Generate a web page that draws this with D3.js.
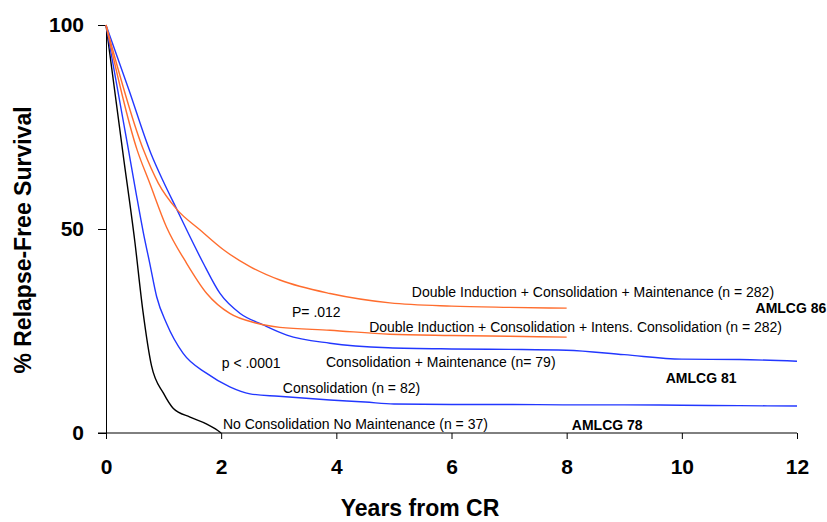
<!DOCTYPE html>
<html>
<head>
<meta charset="utf-8">
<script src="https://cdn.jsdelivr.net/npm/d3@7"></script>
<style>
  body { margin: 0; background: #fff; }
  text { font-family: "Liberation Sans", Arial, sans-serif; }
  .axis path, .axis line { stroke: #000; stroke-width: 1; }
  .axis text { font-size: 21px; font-weight: bold; }
</style>
</head>
<body>
<svg id="chart" width="827" height="522"></svg>
<script>
// years from CR, % relapse-free survival
const noConsol = [[0,100],[0.3,68],[0.5,47],[0.64,30],[0.79,16.5],[1.0,9.7],[1.17,6],[1.46,3.9],[1.75,2.2],[1.9,1],[2,0]];
const consol = [[0,100],[0.39,69.4],[0.52,59],[0.65,49],[0.76,41.6],[0.88,33.4],[1.05,26.9],[1.34,19.5],[1.75,14.6],[2.15,11.3],[2.5,9.6],[3,9],[3.89,8.1],[4.5,7.6],[5,7.1],[6,7],[7,7],[8,6.9],[9,6.9],[10,6.8],[11,6.7],[12,6.6]];
const consolMaint = [[0,100],[0.4,84],[0.78,68.5],[1.0,61.5],[1.23,54.8],[1.4,49.8],[1.69,41.6],[1.98,34.2],[2.33,29.3],[2.73,26.5],[3.14,24],[3.89,22],[4.9,20.9],[6,20.6],[7,20.5],[8,20.3],[9,19.2],[10,18.1],[11,18],[12,17.6]];
const diIntens = [[0,100],[0.54,69.4],[0.76,61.2],[1.05,50.5],[1.4,41.6],[1.75,34.2],[2.15,29.3],[2.62,26.9],[3.02,25.9],[3.89,25.2],[4.93,24.2],[6,23.9],[7,23.7],[8,23.5]];
const diMaint = [[0,100],[0.65,69.4],[0.91,61.2],[1.23,54.8],[1.63,49.8],[2.04,44.9],[2.5,40.8],[3.02,37.5],[3.89,34.2],[4.93,31.9],[6,31.1],[7,30.8],[8,30.6]];

const xTicks = [0, 2, 4, 6, 8, 10, 12];
const yTicks = [0, 50, 100];

const series = [
  {values: noConsol, color: "#000000"},
  {values: consol, color: "#2237ff"},
  {values: consolMaint, color: "#2237ff"},
  {values: diIntens, color: "#ff6d2e"},
  {values: diMaint, color: "#ff6d2e"}
];

// annotation texts, placed in data units
const notes = [
  {text: "Double Induction + Consolidation + Maintenance (n = 282)", x: 5.31, y: 33.3, bold: false},
  {text: "AMLCG 86", x: 11.28, y: 29.4, bold: true},
  {text: "Double Induction + Consolidation + Intens. Consolidation (n = 282)", x: 4.57, y: 24.75, bold: false},
  {text: "P= .012", x: 3.23, y: 28.4, bold: false},
  {text: "Consolidation + Maintenance (n= 79)", x: 3.82, y: 16.2, bold: false},
  {text: "p < .0001", x: 2.01, y: 15.9, bold: false},
  {text: "AMLCG 81", x: 9.72, y: 12.25, bold: true},
  {text: "Consolidation (n = 82)", x: 3.07, y: 9.8, bold: false},
  {text: "No Consolidation No Maintenance (n = 37)", x: 2.03, y: 1.0, bold: false},
  {text: "AMLCG 78", x: 8.09, y: 0.74, bold: true}
];

let margin = {top: 25, left: 106, right: 30, bottom: 89};
let svg = d3.select("#chart");
let width = 827 - margin.left - margin.right;
let height = 522 - margin.top - margin.bottom;

let x = d3.scaleLinear().domain([0, 12]).range([0, width]);
let y = d3.scaleLinear().domain([0, 100]).range([height, 0]);

let g = svg.append("g")
    .attr("transform", "translate(" + margin.left + "," + margin.top + ")");

// axes
g.append("g")
    .attr("class", "axis")
    .attr("transform", "translate(0," + height + ")")
    .call(d3.axisBottom(x).tickValues(xTicks).tickSize(6).tickPadding(20).tickSizeOuter(0))
    .call(a => a.select(".domain").attr("d", "M-8,0H" + width));

g.append("g")
    .attr("class", "axis")
    .call(d3.axisLeft(y).tickValues(yTicks).tickSize(8).tickPadding(14).tickSizeOuter(0));

// survival curves
let line = d3.line()
    .x(d => x(d[0]))
    .y(d => y(d[1]))
    .curve(d3.curveMonotoneX);

g.selectAll(".curve")
    .data(series)
    .enter().append("path")
    .attr("class", "curve")
    .attr("fill", "none")
    .attr("stroke", d => d.color)
    .attr("stroke-width", 1.4)
    .attr("d", d => line(d.values));

// labels
g.selectAll(".note")
    .data(notes)
    .enter().append("text")
    .attr("class", "note")
    .attr("x", d => x(d.x))
    .attr("y", d => y(d.y))
    .attr("font-size", 14)
    .attr("font-weight", d => d.bold ? "bold" : "normal")
    .text(d => d.text);

// axis titles
svg.append("text")
    .attr("x", 420)
    .attr("y", 516)
    .attr("text-anchor", "middle")
    .attr("font-size", 23)
    .attr("font-weight", "bold")
    .text("Years from CR");

svg.append("text")
    .attr("transform", "translate(31,240) rotate(-90)")
    .attr("text-anchor", "middle")
    .attr("font-size", 23)
    .attr("font-weight", "bold")
    .text("% Relapse-Free Survival");
</script>
</body>
</html>
